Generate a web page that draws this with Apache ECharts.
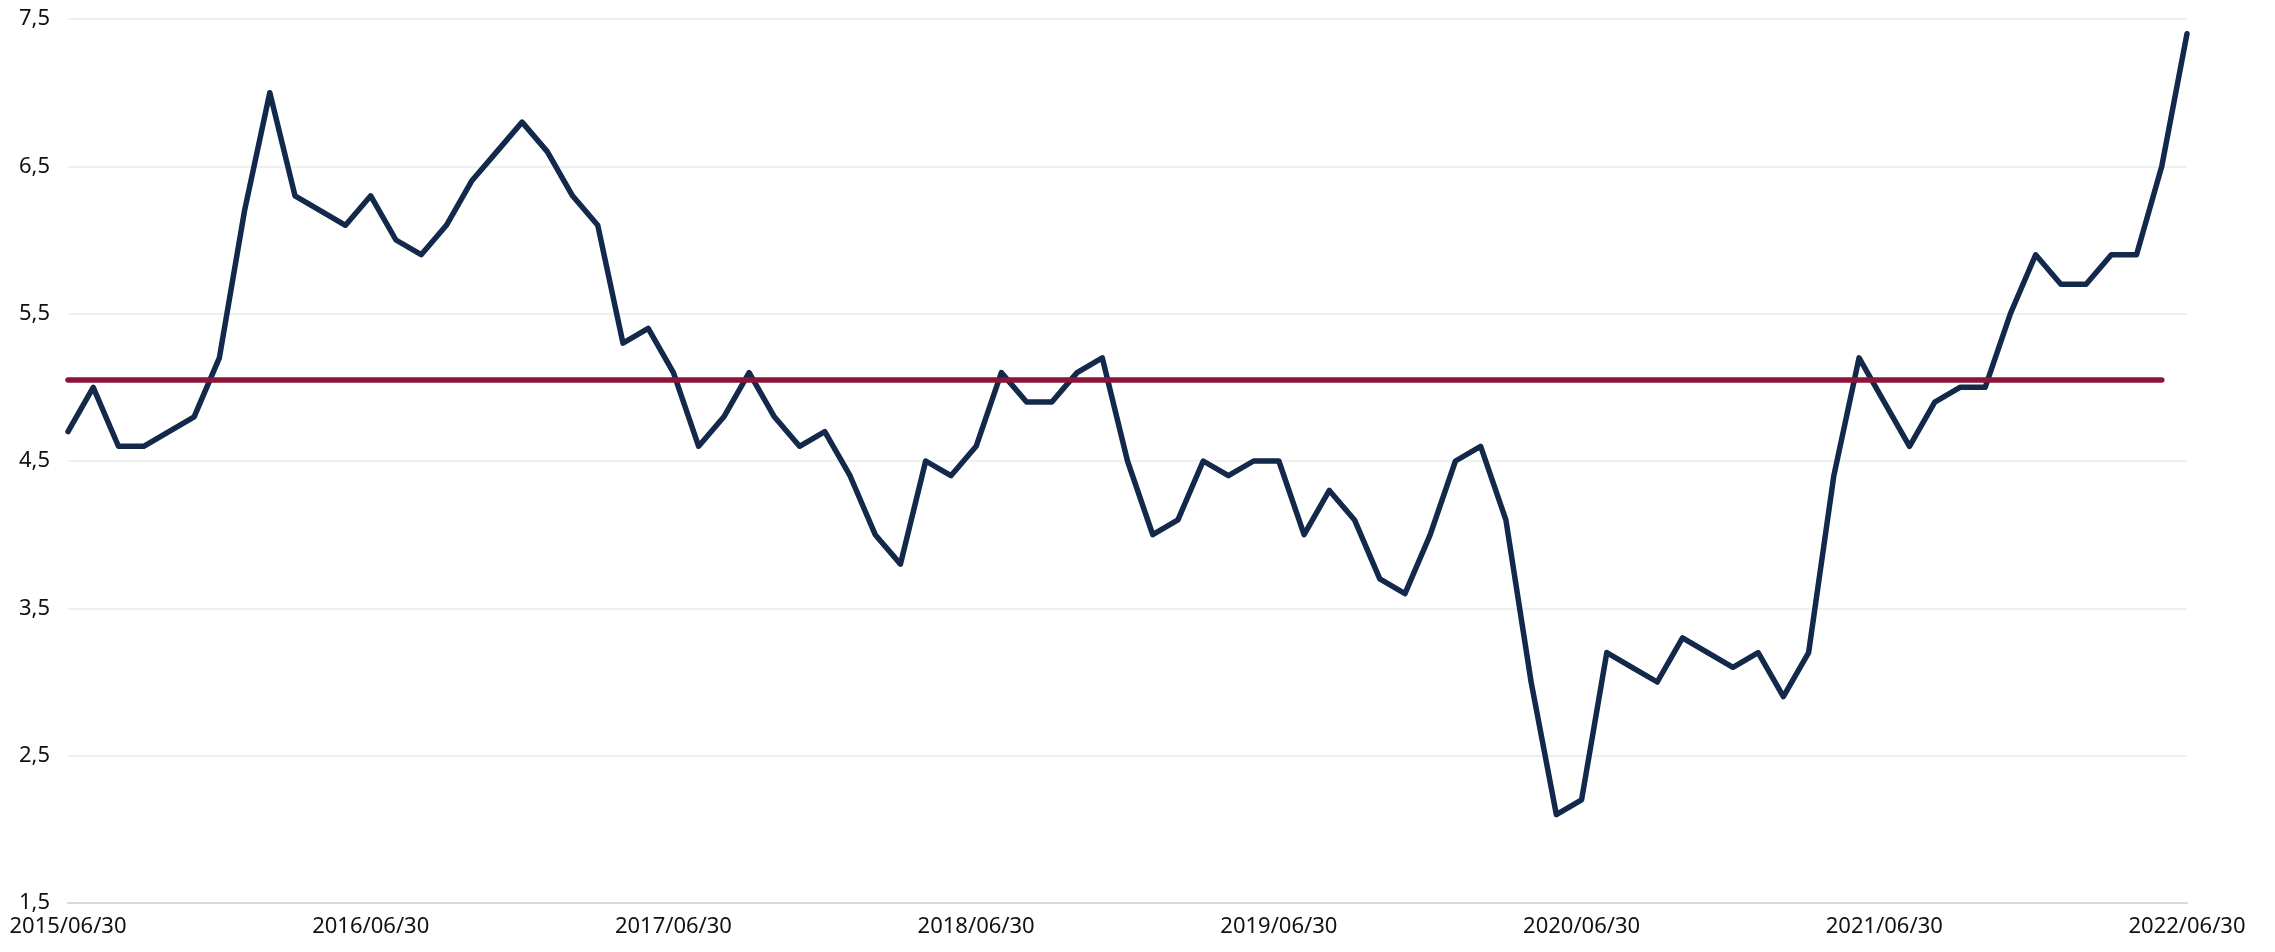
<!DOCTYPE html>
<html>
<head>
<meta charset="utf-8">
<script src="https://cdn.jsdelivr.net/npm/echarts@6/dist/echarts.min.js"></script>
<style>
  html, body { margin: 0; padding: 0; background: #fff; }
  #chart { width: 2275px; height: 952px; }
</style>
</head>
<body>
<div id="chart"></div>
<script>
// monthly readings, 2015/06/30 .. 2022/06/30
var values = [
    4.7, 5.0, 4.6, 4.6, 4.7, 4.8, 5.2, 6.2, 7.0, 6.3, 6.2, 6.1,
    6.3, 6.0, 5.9, 6.1, 6.4, 6.6, 6.8, 6.6, 6.3, 6.1, 5.3, 5.4,
    5.1, 4.6, 4.8, 5.1, 4.8, 4.6, 4.7, 4.4, 4.0, 3.8, 4.5, 4.4,
    4.6, 5.1, 4.9, 4.9, 5.1, 5.2, 4.5, 4.0, 4.1, 4.5, 4.4, 4.5,
    4.5, 4.0, 4.3, 4.1, 3.7, 3.6, 4.0, 4.5, 4.6, 4.1, 3.0, 2.1,
    2.2, 3.2, 3.1, 3.0, 3.3, 3.2, 3.1, 3.2, 2.9, 3.2, 4.4, 5.2,
    4.9, 4.6, 4.9, 5.0, 5.0, 5.5, 5.9, 5.7, 5.7, 5.9, 5.9, 6.5,
    7.4
];
var avgValue = 5.05;     // red average line
var avgEndIndex = 83;    // red line stops one month before the end
var yTicks = [1.5, 2.5, 3.5, 4.5, 5.5, 6.5, 7.5];

// month-end dates as category labels
var dates = [];
function pad(n) { return n < 10 ? '0' + n : '' + n; }
for (var i = 0; i < values.length; i++) {
    var m = 5 + i;               // June 2015 = month index 5
    var y = 2015 + Math.floor(m / 12);
    var mm = m % 12;
    var last = new Date(y, mm + 1, 0).getDate();
    dates.push(y + '/' + pad(mm + 1) + '/' + pad(last));
}

var chart = echarts.init(document.getElementById('chart'));

var option = {
    animation: false,
    backgroundColor: '#ffffff',
    grid: {
        left: 68,
        right: 88,
        top: 19,
        bottom: 49
    },
    xAxis: {
        type: 'category',
        data: dates,
        boundaryGap: false,
        axisLine: { show: true, lineStyle: { color: '#d9d9d9', width: 2 } },
        axisTick: { show: false },
        axisLabel: {
            interval: 11,
            color: '#111',
            fontFamily: 'Noto Sans',
            fontSize: 22,
            margin: 13
        },
        splitLine: { show: false }
    },
    yAxis: {
        type: 'value',
        min: yTicks[0],
        max: yTicks[yTicks.length - 1],
        interval: 1,
        axisLine: { show: false },
        axisTick: { show: false },
        axisLabel: {
            color: '#111',
            fontFamily: 'Noto Sans',
            fontSize: 22,
            margin: 18,
            formatter: function (v) { return v.toFixed(1).replace('.', ','); }
        },
        splitLine: { lineStyle: { color: '#efefef', width: 2 } }
    },
    series: [
        {
            type: 'line',
            data: values,
            symbol: 'none',
            lineStyle: { color: '#13294b', width: 5.5, join: 'round', cap: 'round' },
            markLine: {
                silent: true,
                symbol: 'none',
                label: { show: false },
                lineStyle: { color: '#8b1538', width: 5.5, type: 'solid', cap: 'round' },
                data: [[
                    { coord: [dates[0], avgValue] },
                    { coord: [dates[avgEndIndex], avgValue] }
                ]]
            }
        }
    ]
};

chart.setOption(option);
</script>
</body>
</html>
